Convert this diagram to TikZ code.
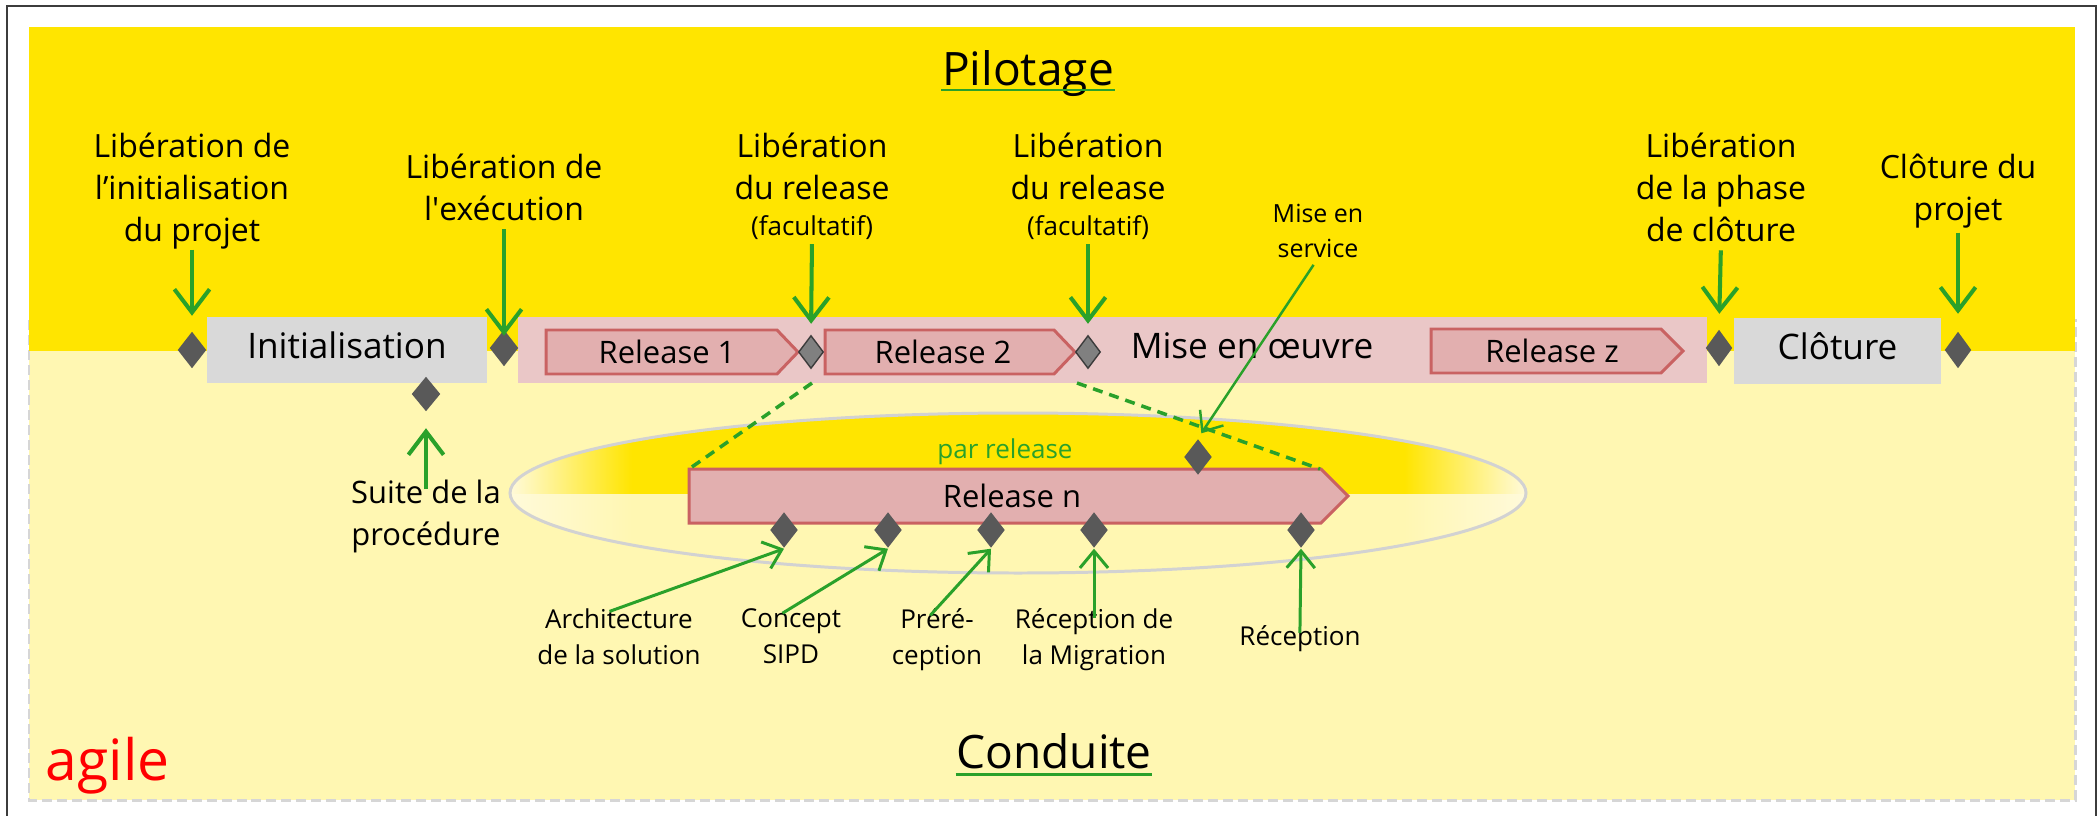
\documentclass[tikz,border=0pt]{standalone}
\usepackage{fontspec}
\setmainfont{Open Sans}
\usetikzlibrary{arrows.meta,shapes.geometric,calc}
\definecolor{yel}{HTML}{FFE500}
\definecolor{lyel}{HTML}{FFF7B2}
\definecolor{cream}{HTML}{FFFADA}
\definecolor{boxgray}{HTML}{D9D9D9}
\definecolor{bandc}{HTML}{EAC7C7}
\definecolor{relfill}{HTML}{E2AFAF}
\definecolor{reldraw}{HTML}{C96262}
\definecolor{dgray}{HTML}{595959}
\definecolor{mgray}{HTML}{808080}
\definecolor{gr}{HTML}{2AA12A}
\definecolor{dashgray}{HTML}{D6D6D6}
\definecolor{ellgray}{HTML}{D2D2D2}
\definecolor{framec}{HTML}{3C3C3C}
\pgfdeclarehorizontalshading{elltop}{100bp}{color(0bp)=(cream); color(25bp)=(cream); color(31bp)=(yel); color(69bp)=(yel); color(75bp)=(cream); color(100bp)=(cream)}
\pgfdeclarehorizontalshading{ellbot}{100bp}{color(0bp)=(cream); color(25bp)=(cream); color(31bp)=(lyel); color(69bp)=(lyel); color(75bp)=(cream); color(100bp)=(cream)}
\tikzset{
  lab/.style={align=center, inner sep=0pt, font=\fontsize{9.1pt}{11.95pt}\selectfont},
  smalllab/.style={align=center, inner sep=0pt, font=\fontsize{7.4pt}{10.2pt}\selectfont},
  garrow/.style={draw=gr, line width=1.15pt, -{Straight Barb[length=6.6pt,width=10pt]}},
  garrowsm/.style={draw=gr, line width=0.85pt, -{Straight Barb[length=4.8pt,width=8pt]}},
  msd/.style={shape=diamond, fill=dgray, inner sep=0pt, minimum width=0.29cm, minimum height=0.37cm},
  msl/.style={shape=diamond, fill=mgray, draw=framec, line width=0.4pt, inner sep=0pt, minimum width=0.25cm, minimum height=0.33cm},
  phasebox/.style={fill=boxgray, inner sep=0pt, minimum height=0.66cm, text height=0.27cm, text depth=0.11cm, font=\fontsize{10pt}{12pt}\selectfont},
  relpath/.style={fill=relfill, draw=reldraw, line width=0.85pt, line join=miter},
  reltext/.style={inner sep=0pt, font=\fontsize{8.8pt}{10pt}\selectfont, anchor=base},
  gdash/.style={draw=gr, line width=1pt, dash pattern=on 2.85pt off 2pt},
  ttl/.style={inner sep=0pt, font=\fontsize{13.1pt}{15pt}\selectfont, anchor=base},
  uline/.style={draw=gr, line width=0.85pt},
}
\begin{document}
\begin{tikzpicture}[x=0.01cm, y=-0.01cm]
\useasboundingbox (0,0) rectangle (2100,815);
% frame and backgrounds
\draw[framec, line width=0.6pt] (7,6) rectangle (2096,840);
\draw[dashgray, line width=0.85pt, dash pattern=on 2.85pt off 1.4pt, fill=lyel] (29,320) rectangle (2075,800);
\fill[yel] (29,27) rectangle (2075,351);
% ellipse "par release"
\begin{scope}
  \clip (1018,493) ellipse [x radius=508, y radius=80];
  \shade[shading=elltop] (510,412) rectangle (1526,494);
  \shade[shading=ellbot] (510,494) rectangle (1526,574);
\end{scope}
\draw[ellgray, line width=0.85pt] (1018,493) ellipse [x radius=508, y radius=80];
% phases
\node[phasebox, minimum width=2.8cm] (init) at (347,350) {Initialisation};
\node[fill=bandc, inner sep=0pt, minimum width=11.89cm, minimum height=0.66cm] (band) at (1112.5,350) {};
\node[phasebox, minimum width=2.07cm] (clot) at (1837.5,351) {Clôture};
\node[anchor=base, inner sep=0pt, font=\fontsize{10pt}{12pt}\selectfont] (meo) at (1252,358) {Mise en œuvre};
% releases
\draw[relpath] (546,330) -- (777,330) -- (798,352) -- (777,374) -- (546,374) -- cycle;
\draw[relpath] (825,330) -- (1054,330) -- (1075,352) -- (1054,374) -- (825,374) -- cycle;
\draw[relpath] (1431,329) -- (1661,329) -- (1683,351) -- (1661,373) -- (1431,373) -- cycle;
\draw[relpath] (689,469) -- (1321,469) -- (1348,496) -- (1321,523) -- (689,523) -- cycle;
\node[reltext] (r1) at (667,363) {Release 1};
\node[reltext] (r2) at (943,363) {Release 2};
\node[reltext] (rz) at (1552,362) {Release z};
\node[reltext] (rn) at (1012,507) {Release n};
\node[smalllab, anchor=base, text=gr] (par) at (1005,458) {par release};
% dashed zoom lines
\coordinate (dsl) at (812,383);
\coordinate (dsr) at (1077,383);
\coordinate (rnl) at (689,469);
\coordinate (rnr) at (1320,469);
\draw[gdash] (dsl) -- (rnl);
\draw[gdash] (dsr) -- (rnr);
% milestones
\node[msd] (d1) at (192,350) {};
\node[msd] (d2) at (504,348) {};
\node[msd, minimum height=0.35cm] (d0) at (426,394) {};
\node[msl] (d3) at (811,352) {};
\node[msl] (d4) at (1088,352) {};
\node[msd, minimum width=0.27cm] (d5) at (1719,348) {};
\node[msd, minimum width=0.27cm] (d6) at (1958,350) {};
\node[msd, minimum width=0.28cm, minimum height=0.36cm] (dms) at (1198,457) {};
\node[msd, minimum width=0.28cm, minimum height=0.36cm] (e1) at (784,530) {};
\node[msd, minimum width=0.28cm, minimum height=0.36cm] (e2) at (888,530) {};
\node[msd, minimum width=0.28cm, minimum height=0.36cm] (e3) at (991,530) {};
\node[msd, minimum width=0.28cm, minimum height=0.36cm] (e4) at (1094,530) {};
\node[msd, minimum width=0.28cm, minimum height=0.36cm] (e5) at (1301,530) {};
% labels
\node[ttl] (pil) at (1028,85) {Pilotage};
\draw[uline] ($(pil.base west)+(0,5)$) -- ($(pil.base east)+(0,5)$);
\node[ttl] (cond) at (1054,768) {Conduite};
\draw[uline] ($(cond.base west)+(0,6)$) -- ($(cond.base east)+(0,6)$);
\node[anchor=base west, inner sep=0pt, text=red, font=\fontsize{16.2pt}{18pt}\selectfont] (agile) at (45,780) {agile};
\node[lab, anchor=north] (l1) at (192,132) {Libération de\\l’initialisation\\du projet};
\node[lab, anchor=north] (l2) at (504,153) {Libération de\\l\textquotesingle exécution};
\node[lab, anchor=north] (l3) at (812,132) {Libération\\du release\\[-1.7pt]{\fontsize{7.4pt}{9pt}\selectfont(facultatif)}};
\node[lab, anchor=north] (l4) at (1088,132) {Libération\\du release\\[-1.7pt]{\fontsize{7.4pt}{9pt}\selectfont(facultatif)}};
\node[lab, anchor=north, font=\fontsize{7.1pt}{10pt}\selectfont] (l5) at (1318,203) {Mise en\\service};
\node[lab, anchor=north] (l6) at (1721,132) {Libération\\de la phase\\de clôture};
\node[lab, anchor=north] (l7) at (1958,153) {Clôture du\\projet};
\node[lab, anchor=north, font=\fontsize{8.8pt}{11.95pt}\selectfont] (suite) at (426,479) {Suite de la\\procédure};
\node[smalllab, anchor=north] (b1) at (619,608) {Architecture\\de la solution};
\node[smalllab, anchor=north] (b2) at (791,608) {Concept\\SIPD};
\node[smalllab, anchor=north] (b3) at (937,608) {Préré-\\ception};
\node[smalllab, anchor=north] (b4) at (1094,608) {Réception de\\la Migration};
\node[smalllab, anchor=north] (b5) at (1300,625) {Réception};
% arrows
\draw[garrow, shorten >=0.15cm] (l1.south) -- (d1.north);
\draw[garrow, shorten <=0.08cm, shorten >=-0.07cm] (l2.south) -- (d2.north);
\draw[garrow, shorten <=0.04cm, shorten >=0.11cm] (l3.south) -- (d3.north);
\draw[garrow, shorten <=0.04cm, shorten >=0.11cm] (l4.south) -- (d4.north);
\draw[garrow, shorten <=0.08cm, shorten >=0.15cm] (l6.south) -- (d5.north);
\draw[garrow, shorten <=0.04cm, shorten >=0.17cm] (l7.south) -- (d6.north);
\draw[garrow, shorten <=-0.1cm, shorten >=0.16cm] (suite.north) -- (d0.south);
\draw[draw=gr, line width=0.7pt, -{Straight Barb[length=4.8pt,width=8pt]}, shorten <=0.08cm, shorten >=0.06cm] (l5.south) -- (dms.north);
\draw[garrowsm, shorten <=-0.1cm] (b1.north) -- (e1.south);
\draw[garrowsm, shorten <=-0.1cm] (b2.north) -- (e2.south);
\draw[garrowsm, shorten <=-0.1cm] (b3.north) -- (e3.south);
\draw[garrowsm, shorten <=-0.1cm] (b4.north) -- (e4.south);
\draw[garrowsm, shorten <=-0.08cm] (b5.north) -- (e5.south);
\end{tikzpicture}
\end{document}
